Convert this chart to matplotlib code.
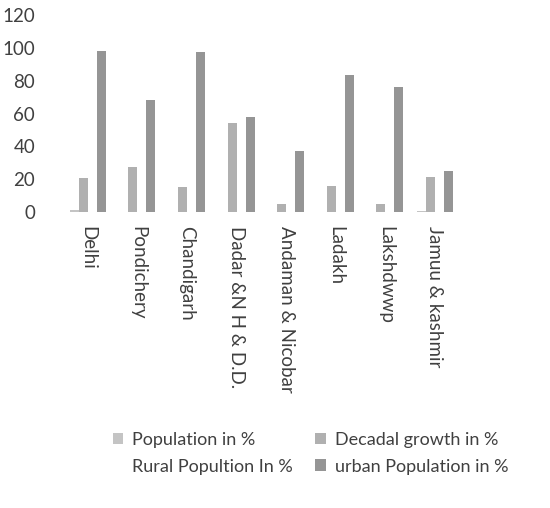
import matplotlib
matplotlib.use("Agg")
import matplotlib.pyplot as plt
import numpy as np

categories = ["Delhi", "Pondichery", "Chandigarh", "Dadar &N H & D.D.",
              "Andaman & Nicobar", "Ladakh", "Lakshdwwp", "Jamuu & kashmir"]
population = [1.4, 0.1, 0.1, 0.1, 0.05, 0.05, 0.01, 0.3]
decadal_growth = [21, 27.5, 15, 54, 5, 16, 4.6, 21.5]
rural_population = [2.5, 32, 2.7, 42, 63, 16, 24, 75]
urban_population = [98, 68, 97.5, 58, 37, 83.5, 76, 24.7]
yticks = [0, 20, 40, 60, 80, 100, 120]

plt.rcParams['font.family'] = ['Lato', 'DejaVu Sans']

fig = plt.figure(figsize=(5.5, 5.08), dpi=100)
ax = fig.add_axes([0.1145, 0.5827, 0.7215, 0.3873])

x = np.arange(len(categories))
w = 1 / 5.5
series = [
    (population, "Population in %", "#c4c4c4"),
    (decadal_growth, "Decadal growth in %", "#b0b0b0"),
    (rural_population, "Rural Popultion In %", "#ffffff"),
    (urban_population, "urban Population in %", "#959595"),
]
handles = []
for i, (vals, lab, col) in enumerate(series):
    b = ax.bar(x + (i - 1.5) * w, vals, width=w, color=col, label=lab,
               edgecolor='none')
    handles.append(b)

ax.set_xlim(-0.5, len(categories) - 0.5)
ax.set_ylim(0, 120)
ax.set_yticks(yticks)
ax.set_yticklabels([str(t) for t in yticks], fontsize=13.5, color="#404040")
ax.set_xticks(x)
ax.set_xticklabels(categories, rotation=270, fontsize=13.5, color="#404040",
                   ha='center', va='top')
ax.tick_params(axis='y', length=0, pad=20)
ax.tick_params(axis='x', length=0, pad=10)
for s in ax.spines.values():
    s.set_visible(False)

order = [handles[0], handles[2], handles[1], handles[3]]
fig.legend(order, [h.get_label() for h in order], ncol=2, frameon=False,
           loc='center left', bbox_to_anchor=(0.175, 0.108),
           fontsize=13, labelcolor="#404040", handlelength=0.6,
           handleheight=0.6, handletextpad=0.5, columnspacing=1.2,
           labelspacing=0.6)

fig.savefig("out.png", dpi=100)
